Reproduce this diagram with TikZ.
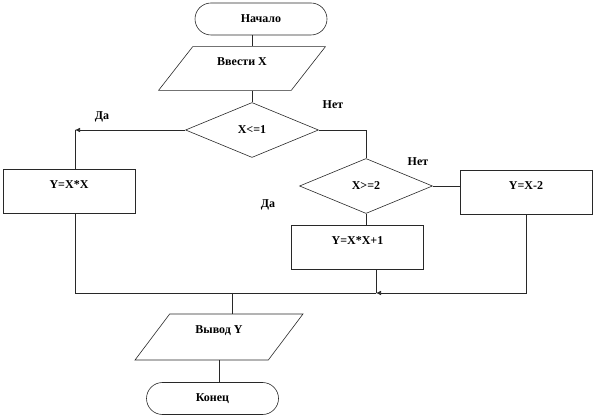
\documentclass[tikz,border=0pt]{standalone}
\usepackage{fontspec}
\setmainfont{Liberation Serif}
\usetikzlibrary{arrows.meta,positioning,shapes.geometric}
\definecolor{flowline}{RGB}{40,40,40}

\begin{document}
\begin{tikzpicture}[x=1pt, y=-1pt, line width=0.6pt,
  every node/.style={align=center, font=\fontsize{12}{14}\selectfont\bfseries},
  term/.style={draw=flowline, rounded corners=16pt, minimum width=132pt, minimum height=32pt, inner sep=0pt},
  io/.style={draw=flowline, trapezium, trapezium left angle=52, trapezium right angle=128, minimum width=167pt, minimum height=43pt, inner sep=0pt, text height=8pt, text depth=14pt},
  cond/.style={draw=flowline, diamond, minimum width=133pt, minimum height=55pt, inner sep=0pt},
  proc/.style={draw=flowline, rectangle, minimum width=132pt, minimum height=44pt, inner sep=0pt, text height=8pt, text depth=14pt},
  flow/.style={draw=flowline},
  arr/.style={draw=flowline, -{Latex[length=5pt,width=4.5pt]}}]
\useasboundingbox (0,0) rectangle (594,419);

\node[term] (start) at (261,19) {Начало};
\node[io] (in) at (242,68.5) {Ввести X};
\node[cond] (d1) at (252,130) {X<=1};
\node[proc] (b1) at (69,191.5) {Y=X*X};
\node[cond] (d2) at (366,186) {X>=2};
\node[proc] (b3) at (526,192.5) {Y=X-2};
\node[proc] (b2) at (357.5,247.5) {Y=X*X+1};
\node[io, trapezium left angle=53, trapezium right angle=127, minimum width=168pt, minimum height=44pt] (out) at (219,337) {Вывод Y};
\node[term] (stop) at (212.5,398.5) {Конец};

\node (yes1) at (102,117) {Да};
\node (no1) at (333,105) {Нет};
\node (no2) at (418,162) {Нет};
\node (yes2) at (268,205) {Да};

% corners of the connectors
\coordinate (tl) at (75,130);
\coordinate (join) at (376,293);
\coordinate (down) at (232,293);

\draw[flow] (start.south -| d1.north) -- (in.north -| d1.north);
\draw[flow] (in.south -| d1.north) -- (d1.north);
\draw[arr] (d1.west) -- (tl);
\draw[flow] (tl) -- (tl |- b1.north);
\draw[flow] (d1.east) -| (d2.north);
\draw[flow] (d2.east) -- (d2.east -| b3.west);
\draw[flow] (d2.south) -- (d2.south |- b2.north);
\draw[flow] (tl |- b1.south) |- (join);
\draw[flow] (b2.south -| join) -- (join);
\draw[arr] (b3.south) |- (join);
\draw[flow] (down) -- (down |- out.north);
\draw[flow] (out.south) -- (out.south |- stop.north);
\end{tikzpicture}
\end{document}
